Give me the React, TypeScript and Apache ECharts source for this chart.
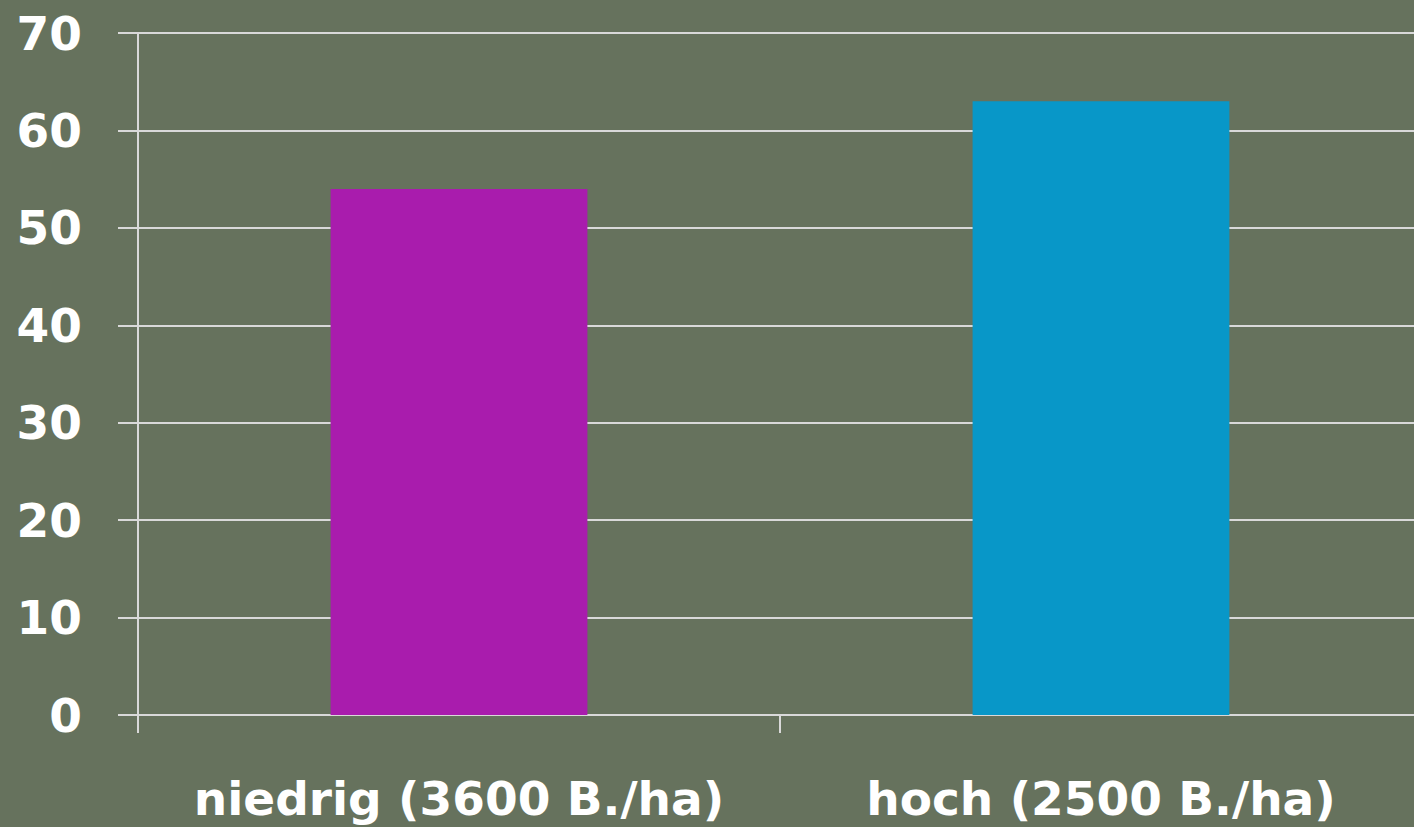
import React, { useEffect, useRef } from "react";
import * as echarts from "echarts";

const categories = ["niedrig (3600 B./ha)", "hoch (2500 B./ha)"];
const values = [54, 63];
const barColors = ["#A91CAD", "#0897C8"];
const yMin = 0;
const yMax = 70;
const yInterval = 10;

export default function App() {
  const ref = useRef<HTMLDivElement>(null);
  useEffect(() => {
    if (!ref.current) return;
    const chart = echarts.init(ref.current, null, { renderer: "svg" });
    const lineColor = "#D9D9D9";
    const font = "DejaVu Sans";
    chart.setOption({
      animation: false,
      backgroundColor: "#66725D",
      grid: { left: 138, right: 0, top: 33, bottom: 112, containLabel: false },
      xAxis: {
        type: "category",
        data: categories,
        axisLine: { show: true, lineStyle: { color: lineColor, width: 2 } },
        axisTick: { show: true, interval: 0, alignWithLabel: false, length: 18, lineStyle: { color: lineColor, width: 2 } },
        axisLabel: { show: true, interval: 0, hideOverlap: false, color: "#FFFFFF", fontFamily: font, fontWeight: "bold", fontSize: 47, margin: 60 },
        splitLine: { show: false },
      },
      yAxis: {
        type: "value",
        min: yMin,
        max: yMax,
        interval: yInterval,
        axisLine: { show: true, lineStyle: { color: lineColor, width: 2 } },
        axisTick: { show: true, length: 20, lineStyle: { color: lineColor, width: 2 } },
        axisLabel: { color: "#FFFFFF", fontFamily: font, fontWeight: "bold", fontSize: 47, margin: 56 },
        splitLine: { show: true, lineStyle: { color: lineColor, width: 2 } },
      },
      series: [
        {
          type: "bar",
          barWidth: "40%",
          data: values.map((v, i) => ({ value: v, itemStyle: { color: barColors[i] } })),
        },
      ],
    });
    return () => chart.dispose();
  }, []);
  return (
    <div
      ref={ref}
      style={{ position: "fixed", left: 0, top: 0, width: 1422, height: 827 }}
    />
  );
}
